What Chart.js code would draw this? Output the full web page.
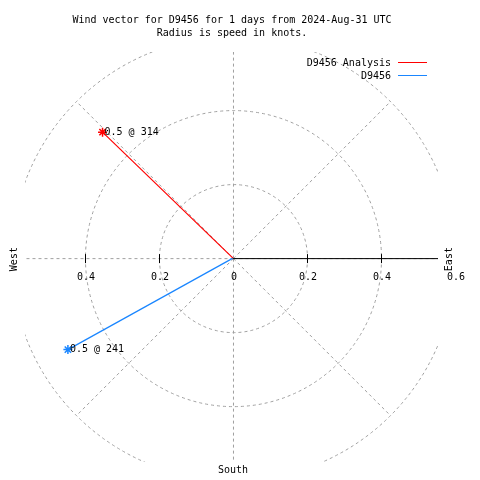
<!DOCTYPE html>
<html><head><meta charset="utf-8">
<script src="https://cdn.jsdelivr.net/npm/chart.js@4.4.1/dist/chart.umd.min.js"></script>
<style>html,body{margin:0;padding:0;background:#fff;}canvas{display:block;}</style>
</head><body>
<canvas id="c" width="480" height="480"></canvas>
<script>
// ---- data ----
const titleLines = ['Wind vector for D9456 for 1 days from 2024-Aug-31 UTC', 'Radius is speed in knots.'];
const seriesNames = ['D9456 Analysis', 'D9456'];
const speeds = [0.49, 0.51];
const directions = [314, 241];
const pointLabels = ['0.5 @ 314', '0.5 @ 241'];
const ringValues = [0.2, 0.4, 0.6];
const spokeAngles = [0, 45, 90, 135, 180, 225, 270, 315];
const eastTicks = [0, 0.2, 0.4, 0.6];
const eastTickLabels = ['0', '0.2', '0.4', '0.6'];
const westTicks = [0.2, 0.4];
const westTickLabels = ['0.2', '0.4'];
const compassLabels = ['West', 'East', 'South'];

// ---- styles ----
const seriesColors = ['#ff0000', '#1a86ff'];
const gridColor = '#a0a0a0';
const FONT = '10px "DejaVu Sans Mono", "Liberation Mono", monospace';

function toXY(speed, dir) {
  const a = dir * Math.PI / 180;
  return { x: speed * Math.sin(a), y: speed * Math.cos(a) };
}

const datasets = seriesNames.map((name, i) => ({
  label: name,
  data: [{ x: 0, y: 0 }, toXY(speeds[i], directions[i])],
  showLine: true,
  borderColor: seriesColors[i],
  backgroundColor: seriesColors[i],
  borderWidth: 1.2,
  pointStyle: 'star',
  pointRadius: ctx => ctx.dataIndex === 1 ? 4.5 : 0,
  pointBorderWidth: 1.5,
  pointHoverRadius: 0
}));

const polarPlugin = {
  id: 'polar',
  beforeDatasetsDraw(chart) {
    const { ctx, chartArea: ca, scales: { x, y } } = chart;
    const cx = x.getPixelForValue(0), cy = y.getPixelForValue(0);
    const ppu = x.getPixelForValue(1) - cx;
    ctx.save();
    ctx.beginPath();
    ctx.rect(ca.left, ca.top, ca.right - ca.left, ca.bottom - ca.top);
    ctx.clip();
    ctx.strokeStyle = gridColor;
    ctx.lineWidth = 1;
    ctx.setLineDash([3, 3]);
    ringValues.forEach(r => {
      ctx.beginPath();
      ctx.arc(cx + 0.5, cy + 0.5, r * ppu, 0, Math.PI * 2);
      ctx.stroke();
    });
    const rmax = ringValues[ringValues.length - 1];
    spokeAngles.forEach(a => {
      const p = toXY(rmax, a);
      ctx.beginPath();
      ctx.moveTo(cx + 0.5, cy + 0.5);
      ctx.lineTo(x.getPixelForValue(p.x) + 0.5, y.getPixelForValue(p.y) + 0.5);
      ctx.stroke();
    });
    ctx.setLineDash([]);
    // solid east axis
    ctx.strokeStyle = '#000';
    ctx.beginPath();
    ctx.moveTo(cx, cy + 0.5);
    ctx.lineTo(ca.right, cy + 0.5);
    ctx.stroke();
    // ticks
    const tickPx = [];
    eastTicks.forEach(v => { if (v > 0) tickPx.push(x.getPixelForValue(v)); });
    westTicks.forEach(v => tickPx.push(x.getPixelForValue(-v)));
    tickPx.forEach(px => {
      ctx.beginPath();
      ctx.moveTo(Math.round(px) + 0.5, cy - 4);
      ctx.lineTo(Math.round(px) + 0.5, cy + 5);
      ctx.stroke();
    });
    ctx.restore();
  },
  afterDraw(chart) {
    const { ctx, chartArea: ca, scales: { x, y } } = chart;
    const cx = x.getPixelForValue(0), cy = y.getPixelForValue(0);
    ctx.save();
    ctx.font = FONT;
    ctx.fillStyle = '#000';
    ctx.textBaseline = 'middle';
    // title
    ctx.textAlign = 'center';
    ctx.fillText(titleLines[0], 232, 20);
    ctx.fillText(titleLines[1], 232, 33);
    // tick labels
    eastTicks.forEach((v, i) => ctx.fillText(eastTickLabels[i], x.getPixelForValue(v) + 1, cy + 19));
    westTicks.forEach((v, i) => ctx.fillText(westTickLabels[i], x.getPixelForValue(-v) + 1, cy + 19));
    // compass labels
    ctx.fillText(compassLabels[2], cx, 470);
    [[compassLabels[0], 14], [compassLabels[1], 449]].forEach(([t, px]) => {
      ctx.save();
      ctx.translate(px, cy + 1);
      ctx.rotate(-Math.PI / 2);
      ctx.fillText(t, 0, 0);
      ctx.restore();
    });
    // point labels
    ctx.textAlign = 'left';
    chart.data.datasets.forEach((ds, i) => {
      const p = ds.data[1];
      ctx.fillText(pointLabels[i], x.getPixelForValue(p.x) + 2, y.getPixelForValue(p.y));
    });
    // legend
    ctx.textAlign = 'right';
    chart.data.datasets.forEach((ds, i) => {
      const ly = 63 + i * 13;
      ctx.fillStyle = '#000';
      ctx.fillText(ds.label, 391, ly);
      ctx.strokeStyle = ds.borderColor;
      ctx.lineWidth = 1;
      ctx.beginPath();
      ctx.moveTo(398, ly - 0.5);
      ctx.lineTo(427, ly - 0.5);
      ctx.stroke();
    });
    ctx.restore();
  }
};

new Chart(document.getElementById('c'), {
  type: 'scatter',
  data: { datasets },
  options: {
    responsive: false,
    animation: false,
    events: [],
    layout: { padding: { left: 25, right: 42, top: 52, bottom: 18 } },
    scales: {
      x: { type: 'linear', display: false, min: -0.562, max: 0.554 },
      y: { type: 'linear', display: false, min: -0.551, max: 0.557 }
    },
    plugins: { legend: { display: false }, title: { display: false }, tooltip: { enabled: false } }
  },
  plugins: [polarPlugin]
});
</script>
</body></html>
